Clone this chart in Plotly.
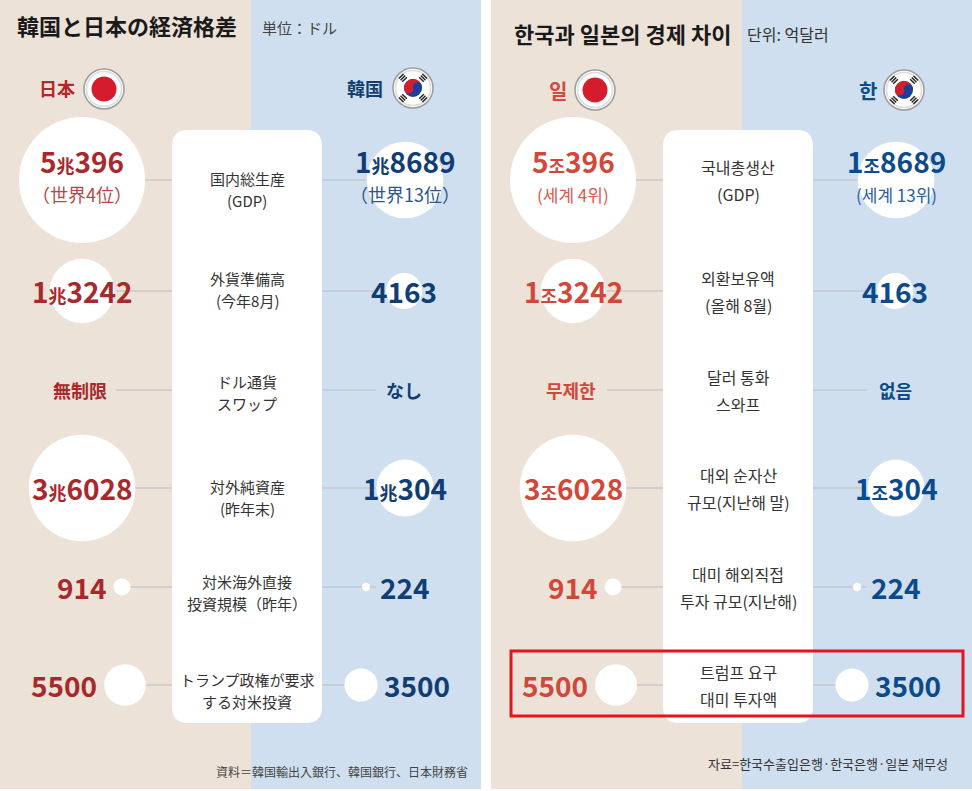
import numpy as np
import plotly.graph_objects as go

# ---- data (units: 100 million USD) ----
japan_values = [50396, 13242, None, 36028, 914, 5500]
korea_values = [18689, 4163, None, 10304, 224, 3500]

# Japanese panel texts
items_ja = [("国内総生産", "(GDP)"), ("外貨準備高", "(今年8月)"), ("ドル通貨", "スワップ"),
            ("対外純資産", "(昨年末)"), ("対米海外直接", "投資規模（昨年）"),
            ("トランプ政権が要求", "する対米投資")]
japan_text_ja = ["5兆396", "1兆3242", "無制限", "3兆6028", "914", "5500"]
korea_text_ja = ["1兆8689", "4163", "なし", "1兆304", "224", "3500"]
rank_ja = ["（世界4位）", "（世界13位）"]

# Korean panel texts
items_ko = [("국내총생산", "(GDP)"), ("외환보유액", "(올해 8월)"), ("달러 통화", "스와프"),
            ("대외 순자산", "규모(지난해 말)"), ("대미 해외직접", "투자 규모(지난해)"),
            ("트럼프 요구", "대미 투자액")]
japan_text_ko = ["5조396", "1조3242", "무제한", "3조6028", "914", "5500"]
korea_text_ko = ["1조8689", "4163", "없음", "1조304", "224", "3500"]
rank_ko = ["(세계 4위)", "(세계 13위)"]

# ---- layout constants (pixels inside a 972x791 canvas) ----
W, H = 972, 791
ROW_Y = [180, 291, 390, 488, 587, 685]
JP_TEXT_X = [82, 82, 80, 82, 82, 64]
KR_TEXT_X = [405, 404, 404, 405, 405, 417]
JP_DOT_X = [82, 82, 82, 82, 122, 125]
KR_DOT_X = [405, 404, 404, 405, 366, 361]
BIG_R = 63  # radius of the largest bubble
BEIGE = "#ede2d8"
BLUE = "#cfdfef"

shapes = []
annotations = []


def ann(x, y, text, size, color, family, xanchor="center", bold=False):
    annotations.append(dict(x=x, y=y, xref="x", yref="y", text=text, showarrow=False,
                            xanchor=xanchor, yanchor="middle",
                            font=dict(size=size, color=color, family=family,
                                      weight=700 if bold else 400)))


def rrect(x0, y0, x1, y1, r):
    return (f"M{x0+r},{y0} L{x1-r},{y0} Q{x1},{y0} {x1},{y0+r} L{x1},{y1-r} "
            f"Q{x1},{y1} {x1-r},{y1} L{x0+r},{y1} Q{x0},{y1} {x0},{y1-r} "
            f"L{x0},{y0+r} Q{x0},{y0} {x0+r},{y0} Z")


def circle(cx, cy, r, fill="rgba(0,0,0,0)", line="rgba(0,0,0,0)", lw=0, layer="above"):
    shapes.append(dict(type="circle", xref="x", yref="y", x0=cx - r, x1=cx + r,
                       y0=cy - r, y1=cy + r, fillcolor=fill,
                       line=dict(color=line, width=lw), layer=layer))


def flag_jp(cx, cy):
    circle(cx, cy, 20, fill="white", line="#9c9c9c", lw=1.5)
    circle(cx, cy, 17.5, line="#dcdcdc", lw=1.5)
    circle(cx, cy, 12.5, fill="#d41c2c")


def flag_kr(cx, cy):
    circle(cx, cy, 20, fill="white", line="#9c9c9c", lw=1.5)
    circle(cx, cy, 17.5, line="#dcdcdc", lw=1.5)
    r = 9
    a = np.radians(15)
    ux, uy = np.cos(a), -np.sin(a)  # screen direction of the dividing axis
    # blue disc, red upper half, then the two small swirl discs
    circle(cx, cy, r, fill="#1a3f9a")
    half = [(cx + r * np.cos(t + a), cy - r * np.sin(t + a)) for t in np.linspace(0, np.pi, 31)]
    path = "M" + " L".join(f"{px:.2f},{py:.2f}" for px, py in half) + " Z"
    shapes.append(dict(type="path", xref="x", yref="y", path=path, fillcolor="#d0202f",
                       line=dict(width=0)))
    circle(cx - ux * r / 2, cy - uy * r / 2, r / 2, fill="#d0202f")
    circle(cx + ux * r / 2, cy + uy * r / 2, r / 2, fill="#1a3f9a")
    for ang in (45, 135, 225, 315):
        d = np.array([np.cos(np.radians(ang)), -np.sin(np.radians(ang))])
        p = np.array([-d[1], d[0]])
        for k in range(3):
            c = np.array([cx, cy]) + d * (12.0 + 2.3 * k)
            e0, e1 = c - p * 3.3, c + p * 3.3
            shapes.append(dict(type="line", xref="x", yref="y", x0=e0[0], y0=e0[1],
                               x1=e1[0], y1=e1[1], line=dict(color="#222", width=1.4)))


def value_label(text, small_unit, unit_size):
    for u in small_unit:
        text = text.replace(u, f"<span style='font-size:{unit_size}px'>{u}</span>")
    return text


bx, by, bs = [], [], []


def panel(ox, items, jp_text, kr_text, rank, fam, units, jp_col, jp_sub, kr_col, kr_sub,
          lab_off, lab_gap, lab_size, sub_size):
    shapes.append(dict(type="rect", xref="x", yref="y", x0=ox, x1=ox + 251, y0=0, y1=789,
                       fillcolor=BEIGE, line=dict(width=0), layer="below"))
    shapes.append(dict(type="rect", xref="x", yref="y", x0=ox + 251, x1=ox + 481, y0=0, y1=789,
                       fillcolor=BLUE, line=dict(width=0), layer="below"))
    for i, y in enumerate(ROW_Y):
        shapes.append(dict(type="line", xref="x", yref="y", x0=ox + 116, x1=ox + 173, y0=y, y1=y,
                           line=dict(color="#bcbcbc", width=1), layer="below"))
        shapes.append(dict(type="line", xref="x", yref="y", x0=ox + 322, x1=ox + 376, y0=y, y1=y,
                           line=dict(color="#bcbcbc", width=1), layer="below"))
    shapes.append(dict(type="path", xref="x", yref="y", path=rrect(ox + 172, 130, ox + 322, 723, 16),
                       fillcolor="white", line=dict(width=0), layer="below"))

    for i, y in enumerate(ROW_Y):
        if japan_values[i] is not None:
            bx.append(ox + JP_DOT_X[i]); by.append(y); bs.append(japan_values[i])
        if korea_values[i] is not None:
            bx.append(ox + KR_DOT_X[i]); by.append(y); bs.append(korea_values[i])

        is_num_jp = jp_text[i][0].isdigit()
        is_num_kr = kr_text[i][0].isdigit()
        ty = y - 19 if i == 0 else y
        ann(ox + JP_TEXT_X[i], ty, value_label(jp_text[i], units, 18),
            28 if is_num_jp else 18, jp_col, fam, bold=True)
        ann(ox + KR_TEXT_X[i], ty, value_label(kr_text[i], units, 18),
            28 if is_num_kr else 18, kr_col, fam, bold=True)
        if i == 0:
            ann(ox + JP_TEXT_X[i], y + 14, rank[0], sub_size, jp_sub, fam)
            ann(ox + KR_TEXT_X[i], y + 14, rank[1], sub_size, kr_sub, fam)

        l1, l2 = items[i]
        ann(ox + 247, y + lab_off[i], l1, lab_size, "#333333", fam)
        ann(ox + 247, y + lab_off[i] + lab_gap, l2, lab_size, "#333333", fam)


# Japanese panel
panel(0, items_ja, japan_text_ja, korea_text_ja, rank_ja, "Noto Sans CJK JP", ["兆"],
      "#a8282c", "#b8464a", "#103d74", "#2d5590",
      [-2, -13, -9, -2, -6, -6], 22, 15, 18)
ann(15, 25, "韓国と日本の経済格差", 22, "#1a1a1a", "Noto Sans CJK JP", xanchor="left", bold=True)
ann(260, 27, "単位：ドル", 15, "#444444", "Noto Sans CJK JP", xanchor="left")
ann(57, 88, "日本", 18, "#b2282d", "Noto Sans CJK JP", bold=True)
ann(365, 88, "韓国", 18, "#143f74", "Noto Sans CJK JP", bold=True)
flag_jp(104, 89)
flag_kr(413, 88)
ann(470, 771, "資料＝韓国輸出入銀行、韓国銀行、日本財務省", 12, "#444444", "Noto Sans CJK JP",
    xanchor="right")

# Korean panel
O = 491
panel(O, items_ko, japan_text_ko, korea_text_ko, rank_ko, "Noto Sans CJK KR", ["조"],
      "#d1483b", "#d8594d", "#0b4a8b", "#2c5e9c",
      [-13] * 6, 27, 16, 17)
ann(512, 33, "한국과 일본의 경제 차이", 22, "#1a1a1a", "Noto Sans CJK KR", xanchor="left", bold=True)
ann(745, 34, "단위: 억달러", 16, "#333333", "Noto Sans CJK KR", xanchor="left")
ann(558, 90, "일", 20, "#d34a3c", "Noto Sans CJK KR", bold=True)
ann(868, 90, "한", 20, "#0d4a8c", "Noto Sans CJK KR", bold=True)
flag_jp(595, 90)
flag_kr(904, 90)
ann(950, 763, "자료=한국수출입은행·한국은행·일본 재무성", 13, "#333333", "Noto Sans CJK KR",
    xanchor="right")
shapes.append(dict(type="rect", xref="x", yref="y", x0=511, x1=963, y0=651, y1=716,
                   line=dict(color="#e5131d", width=3), fillcolor="rgba(0,0,0,0)"))

fig = go.Figure()
fig.add_trace(go.Scatter(
    x=bx, y=by, mode="markers", hoverinfo="skip",
    marker=dict(size=bs, sizemode="area", sizeref=max(bs) / (2 * BIG_R ** 2),
                color="white", line=dict(width=0), opacity=1)))

fig.update_layout(
    width=W, height=H, margin=dict(l=0, r=0, t=0, b=0),
    paper_bgcolor="white", plot_bgcolor="white", showlegend=False,
    xaxis=dict(range=[0, W], visible=False, fixedrange=True),
    yaxis=dict(range=[H, 0], visible=False, fixedrange=True),
    shapes=shapes, annotations=annotations,
)

fig.write_html("out.html", config={"displayModeBar": False},
               post_script="document.body.style.margin='0';")
